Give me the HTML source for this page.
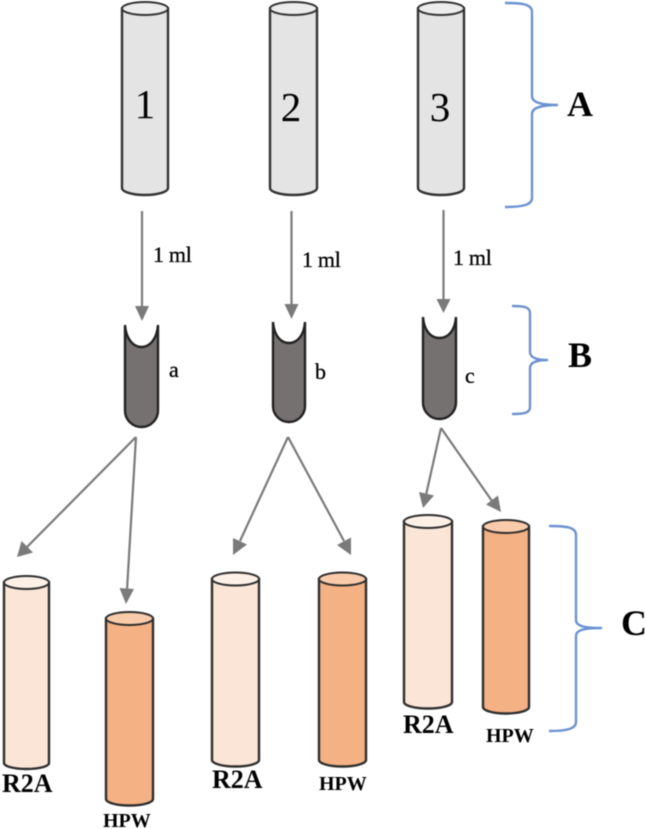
<!DOCTYPE html>
<html>
<head>
<meta charset="utf-8">
<style>
html,body{margin:0;padding:0;background:#fff;}
svg{display:block;filter:blur(0.4px);}
text{font-family:"Liberation Serif",serif;fill:#000;}
.s{stroke:#000;stroke-width:0.3;}
.g{fill:#e4e4e4;stroke:#333;stroke-width:2.4;}
.gt{fill:#ececec;stroke:#333;stroke-width:2;}
.l{fill:#fbe5d6;stroke:#2e2e2e;stroke-width:2.4;}
.lt{fill:#fdf0e7;stroke:#2e2e2e;stroke-width:2;}
.o{fill:#f4b183;stroke:#2e2e2e;stroke-width:2.4;}
.ot{fill:#f9cbab;stroke:#2e2e2e;stroke-width:2;}
.t{fill:#767171;stroke:#222;stroke-width:2.4;}
.a{stroke:#7a7a7a;stroke-width:2.2;fill:none;}
.h{fill:#7a7a7a;}
.b{stroke:#6c92d2;stroke-width:2.4;fill:none;}
.bd{font-weight:bold;}
</style>
</head>
<body>
<svg width="646" height="829" viewBox="0 0 646 829" xmlns="http://www.w3.org/2000/svg">
<!-- top cylinders -->
<path class="g" d="M122 8.5V188A23 7 0 0 0 168 188V8.5Z"/><ellipse class="gt" cx="145" cy="8.5" rx="23" ry="6.5"/>
<path class="g" d="M270 8.5V188A23.500 7 0 0 0 317 188V8.500Z"/><ellipse class="gt" cx="293.500" cy="8.500" rx="23.500" ry="6.500"/>
<path class="g" d="M418 8.500V188A23 7 0 0 0 464 188V8.500Z"/><ellipse class="gt" cx="441" cy="8.500" rx="23" ry="6.500"/>
<text x="145" y="118" font-size="41" text-anchor="middle">1</text>
<text x="291" y="121" font-size="41" text-anchor="middle">2</text>
<text x="440" y="121" font-size="41" text-anchor="middle">3</text>

<!-- vertical arrows -->
<line class="a" x1="142" y1="211" x2="142" y2="308"/><path class="h" d="M135 306H149L142 321Z"/>
<line class="a" x1="291.500" y1="211" x2="291.500" y2="306"/><path class="h" d="M284.500 304H298.500L291.500 319Z"/>
<line class="a" x1="443.500" y1="210" x2="443.500" y2="301"/><path class="h" d="M436.500 299H450.500L443.500 313Z"/>
<text class="s" x="153" y="262" font-size="22" letter-spacing="-0.3">1 ml</text>
<text class="s" x="302" y="267" font-size="22" letter-spacing="-0.3">1 ml</text>
<text class="s" x="453" y="265" font-size="22" letter-spacing="-0.3">1 ml</text>

<!-- dark tubes -->
<path class="t" d="M125 325C126 340 134 347 141.500 347C149 347 157 340 158 325V410.500A16.500 16.500 0 0 1 125 410.500Z"/>
<path class="t" d="M273 322C274 336 281 343 289 343C297 343 304 336 305 322V406A16 16 0 0 1 273 406Z"/>
<path class="t" d="M423 317C424 331 431 338 439.500 338C448 338 455 331 456 317V402.500A16.500 16.500 0 0 1 423 402.500Z"/>
<text class="s" x="169" y="377" font-size="22">a</text>
<text class="s" x="315" y="379" font-size="22">b</text>
<text class="s" x="465" y="383" font-size="22">c</text>

<!-- diagonal arrows -->
<line class="a" x1="136" y1="437" x2="27" y2="547"/><path class="h" d="M17 557L21.500 541L33 552.500Z"/>
<line class="a" x1="136" y1="437" x2="127" y2="590"/><path class="h" d="M119.500 588L134 589L126 604Z"/>
<line class="a" x1="288" y1="437" x2="240" y2="541"/><path class="h" d="M233 555L233 538L247 544.500Z"/>
<line class="a" x1="288" y1="437" x2="344" y2="541"/><path class="h" d="M351 555L337 545L351 537.500Z"/>
<line class="a" x1="441" y1="428" x2="426" y2="495"/><path class="h" d="M423 508L419 492L434 495.500Z"/>
<line class="a" x1="441" y1="428" x2="492" y2="501"/><path class="h" d="M501 512L486 504.500L498 495.500Z"/>

<!-- lower cylinders -->
<path class="l" d="M4 582.500V763A22.500 6 0 0 0 49 763V582.500Z"/><ellipse class="lt" cx="26.500" cy="582.500" rx="22.500" ry="6.500"/>
<path class="o" d="M106 618.500V799A23.500 6.500 0 0 0 153 799V618.500Z"/><ellipse class="ot" cx="129.500" cy="618.500" rx="23.500" ry="6.500"/>
<path class="l" d="M212 579V760A23.500 6.500 0 0 0 259 760V579Z"/><ellipse class="lt" cx="235.500" cy="579" rx="23.500" ry="6.500"/>
<path class="o" d="M319 579V760A23.500 6.500 0 0 0 366 760V579Z"/><ellipse class="ot" cx="342.500" cy="579" rx="23.500" ry="6.500"/>
<path class="l" d="M404 521.500V702A24 6.500 0 0 0 452 702V521.500Z"/><ellipse class="lt" cx="428" cy="521.500" rx="24" ry="6.500"/>
<path class="o" d="M483 526.500V707A23 6.500 0 0 0 529 707V526.500Z"/><ellipse class="ot" cx="506" cy="526.500" rx="23" ry="6.500"/>

<text class="bd" x="2" y="792" font-size="26">R2A</text>
<text class="bd" x="103" y="827" font-size="20">HPW</text>
<text class="bd" x="212" y="788" font-size="26">R2A</text>
<text class="bd" x="319" y="790" font-size="20">HPW</text>
<text class="bd" x="403" y="733" font-size="26">R2A</text>
<text class="bd" x="486" y="742" font-size="20">HPW</text>

<!-- braces -->
<path class="b" d="M505 3C522 3 532 4 532 12V96C532 102 540 105 558 105C540 105 532 108 532 114V198C532 205 522 207 505 207"/>
<path class="b" d="M512 306C524 306 530 307 530 313V352C530 358 537 360 548 360C537 360 530 362 530 368V407C530 413 524 414 512 414"/>
<path class="b" d="M549 526C566 526 576 527 576 535V620C576 626 584 628 602 628C584 628 576 630 576 636V722C576 729 566 731 549 731"/>
<text class="bd" x="567" y="116" font-size="36">A</text>
<text class="bd" x="568" y="367" font-size="36">B</text>
<text class="bd" x="621" y="635" font-size="36">C</text>
</svg>
</body>
</html>
